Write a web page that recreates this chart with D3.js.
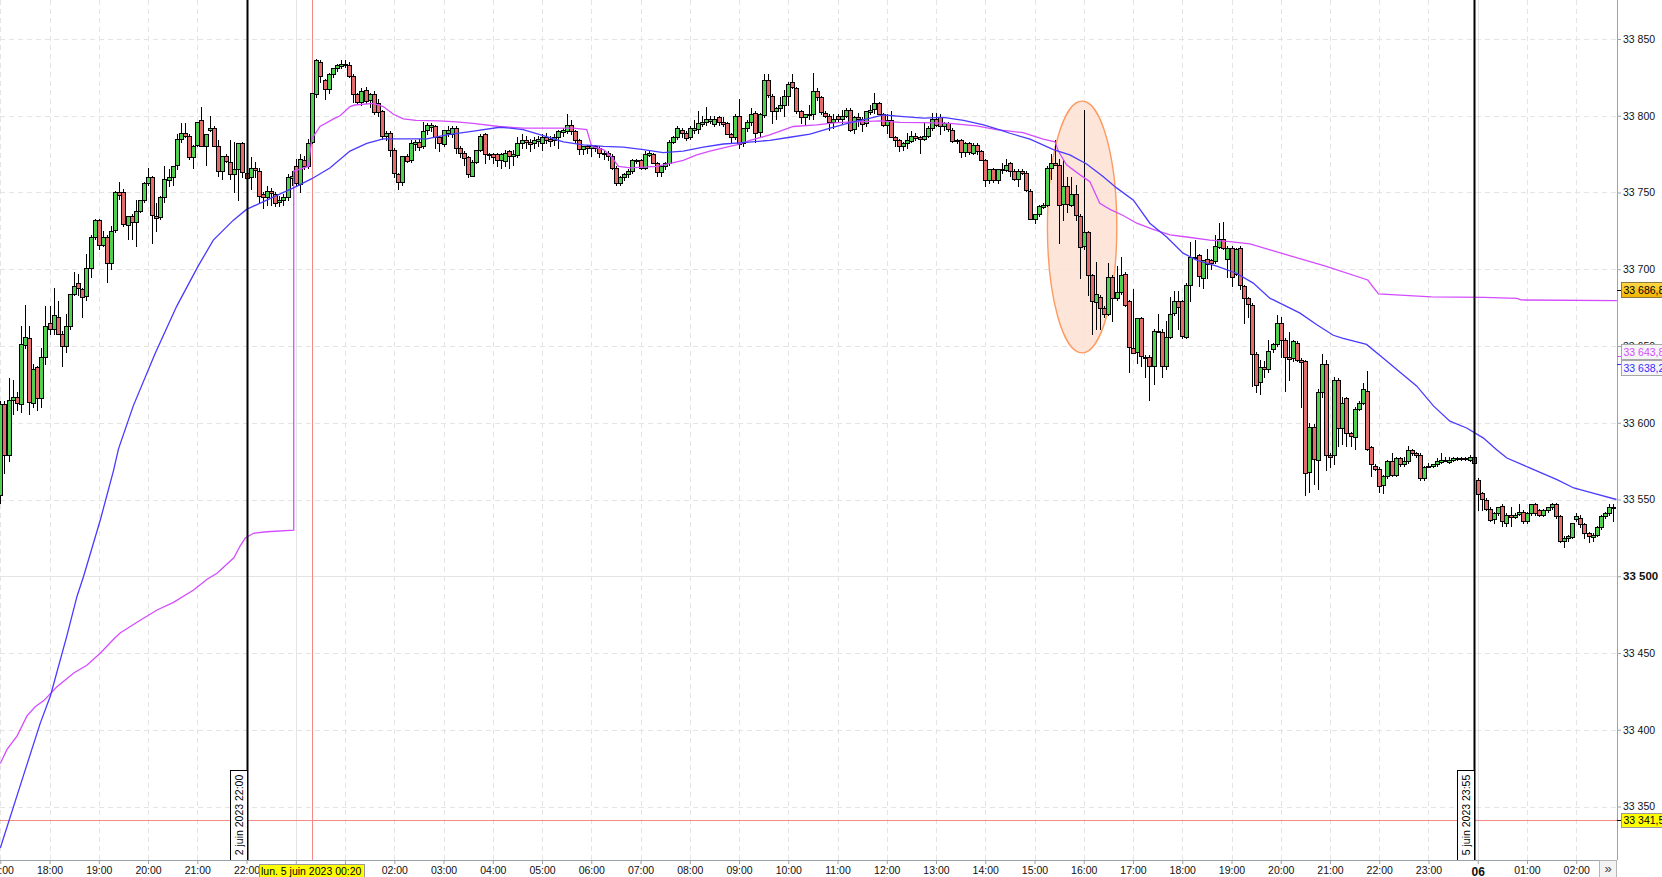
<!DOCTYPE html>
<html>
<head>
<meta charset="utf-8">
<script src="https://cdn.jsdelivr.net/npm/d3@7"></script>
<style>
  html, body { margin: 0; padding: 0; background: #fff; overflow: hidden; }
  svg { display: block; font-family: "Liberation Sans", Arial, sans-serif; }
</style>
</head>
<body>
<svg id="chart" width="1662" height="877"></svg>
<script>
// ── Sessions (5-minute bars, weekend skipped) ────────────────────────────────

const sessionStarts = ['2023-06-02T17:00', '2023-06-05T00:00'];
const sessionBars   = [72, 322];

// ── Candles, one line per hour ────────────────────────────────────────────────

const candleOpen = [
  33553,33612,33579,33615,33617,33612,33651,33655,33613,33636,33616,33643,
  33665,33661,33669,33658,33650,33663,33684,33691,33687,33683,33701,33721,
  33732,33716,33721,33704,33725,33750,33750,33729,33735,33731,33738,33745,
  33756,33760,33735,33734,33747,33758,33760,33768,33785,33789,33787,33773,
  33781,33797,33780,33791,33792,33780,33764,33774,33770,33762,33765,33782,
  33763,33760,33766,33764,33749,33747,33751,33749,33744,33745,33747,33760,
  33767,33756,33771,33767,33783,33814,33835,33823,33817,33827,33831,33833,
  33834,33833,33826,33814,33809,33817,33810,33814,33808,33803,33787,33789,
  33778,33762,33757,33774,33771,33782,33783,33780,33791,33793,33793,33786,
  33782,33789,33788,33792,33779,33776,33773,33761,33770,33778,33788,33775,
  33775,33775,33771,33771,33777,33774,33774,33782,33784,33783,33782,33784,
  33782,33786,33785,33784,33786,33790,33790,33794,33790,33784,33778,33780,
  33779,33780,33779,33776,33776,33774,33766,33756,33760,33762,33764,33771,
  33771,33766,33775,33775,33769,33763,33767,33769,33783,33786,33791,33789,
  33786,33791,33791,33795,33796,33797,33795,33799,33796,33795,33788,33786,
  33800,33782,33792,33796,33802,33789,33800,33823,33813,33803,33805,33807,
  33813,33822,33818,33803,33799,33801,33801,33816,33812,33802,33800,33796,
  33800,33798,33800,33804,33791,33799,33798,33795,33803,33804,33808,33801,
  33794,33797,33786,33784,33780,33782,33784,33787,33786,33785,33787,33792,
  33798,33799,33793,33795,33791,33784,33784,33776,33782,33776,33781,33777,
  33771,33758,33765,33758,33765,33765,33769,33764,33759,33764,33763,33751,
  33733,33736,33741,33742,33766,33769,33768,33742,33754,33742,33749,33735,
  33715,33724,33696,33679,33682,33675,33671,33695,33681,33685,33697,33679,
  33649,33646,33668,33643,33643,33637,33660,33659,33637,33656,33671,33679,
  33679,33656,33690,33708,33709,33694,33707,33706,33705,33715,33720,33707,
  33714,33697,33714,33689,33681,33677,33645,33626,33636,33635,33648,33651,
  33665,33654,33643,33642,33652,33641,33640,33568,33597,33576,33620,33638,
  33579,33579,33628,33597,33616,33593,33591,33609,33613,33621,33584,33572,
  33570,33559,33565,33575,33566,33577,33573,33575,33582,33580,33579,33564,
  33572,33572,33573,33575,33576,33575,33576,33577,33577,33577,33576,33578,
  33563,33554,33550,33544,33537,33541,33546,33535,33540,33539,33541,33542,
  33536,33541,33547,33543,33540,33543,33545,33547,33539,33523,33525,33526,
  33537,33538,33534,33528,33526,33527,33532,33539,33541,33545
];

const candleHigh = [
  33614,33614,33629,33628,33620,33663,33677,33663,33638,33637,33649,33676,
  33676,33688,33679,33660,33671,33684,33698,33697,33688,33710,33722,33733,
  33733,33725,33722,33728,33751,33757,33752,33735,33736,33745,33745,33757,
  33766,33761,33743,33748,33767,33765,33767,33788,33795,33795,33788,33781,
  33796,33806,33788,33800,33793,33784,33774,33775,33784,33783,33782,33783,
  33766,33773,33770,33766,33750,33754,33753,33750,33748,33749,33762,33764,
  33772,33775,33774,33785,33815,33837,33836,33824,33828,33831,33834,33836,
  33836,33835,33827,33815,33818,33819,33815,33816,33811,33804,33790,33790,
  33779,33763,33774,33775,33784,33784,33785,33796,33795,33795,33794,33787,
  33791,33793,33793,33793,33780,33777,33774,33771,33778,33788,33789,33776,
  33776,33776,33776,33778,33778,33778,33786,33788,33787,33785,33786,33787,
  33788,33789,33787,33788,33791,33792,33801,33797,33791,33785,33780,33781,
  33781,33781,33780,33777,33777,33775,33767,33761,33763,33765,33772,33772,
  33772,33777,33777,33776,33770,33767,33770,33784,33787,33793,33792,33790,
  33793,33797,33803,33800,33806,33800,33800,33800,33799,33796,33789,33801,
  33811,33792,33797,33805,33803,33802,33827,33827,33814,33806,33812,33817,
  33822,33827,33819,33804,33801,33807,33828,33818,33813,33803,33801,33801,
  33801,33804,33805,33805,33800,33802,33799,33803,33807,33815,33809,33802,
  33801,33803,33787,33785,33783,33789,33790,33789,33787,33795,33793,33802,
  33802,33801,33796,33796,33792,33785,33785,33783,33783,33782,33782,33778,
  33772,33765,33766,33765,33769,33772,33770,33765,33765,33765,33764,33752,
  33736,33742,33743,33767,33775,33784,33772,33771,33760,33760,33755,33736,
  33804,33725,33697,33705,33683,33676,33704,33696,33702,33708,33698,33680,
  33687,33668,33669,33644,33644,33661,33671,33661,33666,33682,33686,33686,
  33680,33691,33718,33719,33710,33706,33713,33707,33722,33730,33731,33715,
  33715,33714,33715,33690,33682,33678,33646,33641,33640,33654,33652,33670,
  33669,33655,33659,33654,33653,33642,33641,33600,33599,33622,33645,33641,
  33580,33630,33629,33617,33617,33594,33610,33614,33626,33634,33585,33573,
  33571,33566,33576,33580,33578,33578,33578,33585,33583,33581,33580,33572,
  33574,33573,33577,33580,33578,33578,33578,33578,33578,33578,33579,33579,
  33564,33555,33551,33545,33542,33545,33547,33541,33545,33541,33547,33543,
  33542,33547,33548,33544,33544,33545,33548,33548,33540,33526,33527,33535,
  33541,33540,33535,33529,33528,33533,33540,33542,33547,33547
];

const candleLow = [
  33548,33567,33575,33606,33608,33607,33649,33606,33610,33608,33610,33638,
  33658,33658,33658,33637,33646,33661,33683,33683,33669,33680,33695,33720,
  33713,33715,33692,33700,33724,33746,33728,33720,33720,33715,33737,33744,
  33755,33717,33725,33733,33744,33754,33755,33765,33783,33786,33772,33766,
  33780,33780,33768,33790,33780,33761,33759,33770,33759,33750,33745,33760,
  33758,33752,33760,33744,33740,33742,33742,33741,33741,33742,33745,33755,
  33755,33750,33765,33766,33782,33812,33822,33811,33815,33825,33829,33831,
  33832,33825,33809,33808,33807,33808,33806,33801,33800,33785,33784,33774,
  33760,33752,33755,33770,33770,33778,33778,33779,33788,33790,33779,33777,
  33780,33787,33786,33776,33773,33768,33760,33761,33769,33777,33769,33772,
  33769,33767,33766,33767,33766,33768,33773,33779,33779,33777,33779,33780,
  33778,33782,33780,33781,33779,33787,33789,33788,33783,33775,33775,33776,
  33774,33777,33773,33772,33771,33765,33755,33755,33758,33760,33763,33769,
  33765,33765,33774,33769,33761,33761,33765,33768,33782,33785,33786,33784,
  33785,33789,33789,33793,33794,33795,33793,33794,33793,33788,33782,33785,
  33779,33780,33790,33794,33783,33787,33799,33812,33795,33798,33803,33800,
  33807,33818,33802,33795,33794,33798,33798,33810,33801,33799,33791,33792,
  33796,33795,33799,33790,33789,33793,33790,33793,33801,33802,33801,33793,
  33789,33786,33780,33777,33778,33779,33783,33784,33776,33784,33786,33791,
  33793,33788,33791,33790,33783,33782,33773,33774,33775,33775,33775,33771,
  33754,33756,33757,33756,33763,33764,33761,33758,33754,33762,33751,33733,
  33730,33735,33740,33741,33759,33768,33717,33732,33737,33741,33732,33694,
  33713,33683,33658,33661,33661,33669,33670,33666,33680,33684,33676,33633,
  33646,33639,33637,33630,33615,33625,33659,33630,33635,33655,33670,33661,
  33655,33655,33679,33707,33689,33688,33694,33700,33704,33714,33713,33695,
  33689,33696,33687,33665,33669,33624,33620,33619,33630,33633,33646,33650,
  33643,33621,33628,33640,33640,33610,33553,33555,33560,33557,33617,33569,
  33571,33573,33585,33586,33585,33585,33583,33608,33612,33582,33565,33569,
  33555,33554,33564,33565,33565,33572,33572,33574,33579,33578,33563,33563,
  33571,33571,33572,33574,33575,33574,33575,33576,33576,33576,33575,33573,
  33543,33543,33543,33536,33535,33540,33533,33533,33533,33538,33540,33535,
  33535,33540,33540,33539,33539,33542,33544,33538,33522,33519,33523,33525,
  33536,33532,33525,33522,33523,33526,33531,33538,33540,33536
];

const candleClose = [
  33612,33579,33615,33617,33613,33651,33656,33613,33635,33616,33643,33663,
  33661,33670,33658,33650,33663,33684,33689,33688,33682,33701,33721,33732,
  33716,33721,33704,33725,33750,33748,33729,33735,33731,33738,33745,33756,
  33760,33735,33734,33747,33759,33760,33767,33785,33789,33787,33773,33780,
  33796,33780,33788,33792,33780,33764,33774,33771,33762,33765,33782,33763,
  33760,33766,33765,33748,33747,33751,33750,33743,33745,33747,33760,33761,
  33756,33772,33767,33782,33815,33836,33826,33817,33827,33831,33833,33834,
  33834,33826,33814,33809,33816,33810,33814,33802,33802,33787,33789,33778,
  33763,33757,33774,33771,33782,33783,33780,33790,33794,33794,33786,33782,
  33791,33791,33792,33779,33776,33773,33762,33770,33778,33787,33775,33775,
  33773,33771,33775,33776,33774,33775,33782,33784,33783,33782,33784,33785,
  33786,33784,33784,33786,33790,33791,33794,33790,33784,33778,33780,33779,
  33780,33779,33776,33776,33774,33766,33756,33760,33762,33764,33771,33771,
  33766,33775,33776,33769,33763,33767,33769,33783,33786,33792,33789,33786,
  33792,33792,33795,33796,33798,33798,33798,33796,33795,33788,33786,33800,
  33782,33792,33796,33801,33789,33801,33823,33813,33803,33805,33807,33813,
  33821,33819,33803,33799,33801,33801,33816,33812,33802,33800,33796,33798,
  33798,33800,33804,33791,33799,33798,33795,33803,33804,33808,33801,33794,
  33797,33786,33784,33780,33782,33784,33787,33786,33785,33787,33792,33798,
  33794,33793,33795,33791,33784,33784,33776,33782,33776,33781,33777,33771,
  33758,33765,33758,33765,33765,33768,33764,33759,33764,33763,33752,33733,
  33736,33741,33742,33766,33769,33768,33742,33754,33742,33749,33735,33715,
  33724,33696,33679,33684,33675,33671,33695,33681,33685,33696,33677,33649,
  33646,33668,33643,33643,33637,33660,33660,33637,33656,33671,33679,33675,
  33656,33690,33708,33708,33695,33706,33704,33704,33715,33720,33714,33714,
  33695,33713,33690,33681,33677,33645,33625,33636,33635,33647,33651,33665,
  33654,33643,33642,33653,33641,33640,33567,33597,33576,33620,33638,33579,
  33578,33628,33597,33613,33593,33591,33609,33613,33622,33583,33573,33570,
  33559,33565,33575,33566,33577,33573,33575,33582,33580,33579,33564,33571,
  33572,33573,33575,33576,33576,33576,33577,33577,33577,33577,33578,33574,
  33554,33550,33544,33537,33541,33545,33536,33540,33539,33540,33542,33536,
  33541,33547,33541,33540,33543,33545,33547,33539,33523,33525,33526,33535,
  33539,33534,33528,33526,33527,33532,33539,33541,33545,33545
];

// ── Indicator lines: [bar position, price] ────────────────────────────────────

// magenta (session VWAP-like), steps at the Monday open
const vwapLine = [
  [0,33378],[1.6,33387],[4.1,33396],[6.5,33409],[8.5,33415],[10.6,33419],[13.8,33428],
  [17.9,33437],[21.1,33442],[24.4,33450],[27.6,33459],[29.2,33463],[33.3,33470],
  [38.2,33478],[42.2,33483],[47.1,33491],[50.4,33498],[52.8,33502],[56.9,33512],
  [58.5,33520],[59.7,33525],[61.7,33528],[65,33529],[71.5,33530],
  [71.5,33764],[75.1,33767],[75.9,33785],[77.9,33793],[81.2,33798],[82.8,33800],
  [85.2,33806],[86.4,33807],[90.9,33808],[93.3,33806],[95.8,33801],[98.2,33798],
  [101.3,33797],[107,33796.6],[111.1,33796],[115.2,33795],[121.5,33793],[127.4,33792],
  [135.6,33792],[139.6,33792],[142.9,33791],[144.1,33780],[147,33778],[149,33773],
  [150.6,33767],[153.5,33766],[156.7,33766.5],[160,33767],[163.2,33769],[166.4,33771],
  [169.7,33774.5],[172.9,33777],[176.2,33779],[179.4,33781],[182.7,33784],[187.5,33787.5],
  [193.2,33793],[198.9,33794],[203.8,33795.5],[208.6,33796],[214.3,33796.6],[219.2,33795.7],
  [224.9,33795.5],[231.4,33795],[237.9,33793.4],[242.7,33791],[246,33790],[249.2,33789],
  [254.1,33784.7],[257,33783],[257.8,33777],[259.8,33768],[263.1,33761.5],[265.5,33757],
  [267.9,33743],[270.4,33739],[273.6,33735],[276.9,33730],[280.9,33726],[285,33722.4],
  [289.1,33721],[294.7,33719],[299.6,33718],[304.5,33716.5],[309.4,33712.6],[322.9,33702],
  [333.2,33693],[335.8,33684],[348.7,33682],[361.6,33681.7],[369.6,33681],[370.5,33680],
  [393.9,33679.5]
];

// blue moving average
const maLine = [
  [0,33323],[6.1,33374],[9.7,33404],[12.2,33422],[16.2,33461],[18.7,33487],[20.3,33500],
  [24.4,33537],[27.6,33569],[28.8,33583],[32.4,33611],[37.7,33645],[43,33676],[48.2,33702],
  [51.9,33719],[56.8,33732],[60,33739],[66.5,33747],[72.2,33754],[75.9,33759],[80.3,33766],
  [85.2,33777],[89.3,33782],[93.3,33785],[99,33785],[103.9,33785],[108.8,33787.5],
  [115.3,33790],[121.7,33792.5],[124.2,33792],[127.4,33791],[132.3,33787],[137.2,33783],
  [142.1,33781],[147,33780],[151.8,33779.5],[156.7,33778],[161.5,33776],[166.4,33777],
  [171.3,33779.5],[176.2,33781.6],[181,33782.5],[187.5,33784],[192.4,33786],[197.3,33788],
  [202.2,33792],[207.1,33795.5],[212,33798.4],[215.2,33800.5],[220.1,33799.4],[225,33798.4],
  [229.8,33799],[234.7,33797],[239.6,33794],[244.5,33790],[246,33788.6],[250.9,33784.7],
  [256.6,33778],[260.6,33774.5],[264.7,33768.6],[268.7,33760.4],[272,33753],[276.1,33745],
  [280.1,33730],[284.2,33721],[288.2,33710.5],[291.5,33706],[296.4,33702],[301.2,33697.4],
  [305.3,33691],[309.4,33681],[310.2,33680],[316.7,33671.4],[320.7,33664],[324.8,33657],
  [327.2,33655],[332.9,33651],[337,33642],[341,33633],[345.1,33624],[349.2,33611],
  [353.2,33601],[357.3,33596.6],[361.4,33590],[364.6,33582.4],[367.1,33577],[372.8,33570.5],
  [379.3,33563],[383.4,33557.5],[388.3,33554],[393.8,33550]
];

// ── Annotations ───────────────────────────────────────────────────────────────

const priceTicks   = d3.range(33350, 33851, 50);
const markerBars   = [60, 359];                       // vertical line objects
const markerTexts  = ['2 juin 2023 22:00', '5 juin 2023 23:55'];
const cursorBar    = 76;
const cursorPrice  = 33341.5;
const cursorText   = 'lun. 5 juin 2023 00:20';
const tagValues    = [33686.8, 33643.8, 33638.2];     // right-hand value tags
const ellipseNote  = [263.6, 33727.5, 8.45, 82];      // bar, price, half-width (bars), half-height (price)

// ── Layout ────────────────────────────────────────────────────────────────────

const PLOT_R = 1617;
const PLOT_B = 860;
const GREEN  = '#4fd04f';
const RED    = '#e46c6c';
const AXIS   = '#9aa3ab';
const GRID   = '#e4e4e4';

const svg = d3.select('#chart');

const x = d3.scaleLinear().domain([0, 393]).range([0.3, 0.3 + 4.104 * 393]);
const y = d3.scaleLinear().domain([33350, 33850]).range([806.5, 39]);

const fr = d3.formatLocale({ decimal: ',', thousands: ' ', grouping: [3], currency: ['', ''] });
const fmtPrice = fr.format(',.0f');
const fmtTag   = fr.format(',.1f');

// bar times → hourly ticks
const parse = d3.timeParse('%Y-%m-%dT%H:%M');
const barTimes = sessionStarts.flatMap((s, k) =>
  d3.range(sessionBars[k]).map(j => d3.timeMinute.offset(parse(s), 5 * j)));
const hourBars = d3.range(barTimes.length).filter(i => barTimes[i].getMinutes() === 0);
const isDay = i => barTimes[i].getHours() === 0;

// the crosshair time tag hides the hour labels beneath it
const cx = Math.round(x(cursorBar));
const underTag = i => Math.abs(x(i) - cx) < 60;

const bars = candleOpen.map((o, i) => ({
  i, o, h: candleHigh[i], l: candleLow[i], c: candleClose[i]
}));

svg.append('defs').append('clipPath').attr('id', 'plot-clip')
  .append('rect').attr('width', PLOT_R).attr('height', PLOT_B);

const plot = svg.append('g').attr('clip-path', 'url(#plot-clip)');

// ── Grid ──────────────────────────────────────────────────────────────────────

plot.append('g').selectAll('line').data(priceTicks).join('line')
  .attr('x1', 0).attr('x2', PLOT_R)
  .attr('y1', d => Math.round(y(d)) + 0.5).attr('y2', d => Math.round(y(d)) + 0.5)
  .attr('stroke', GRID)
  .attr('stroke-dasharray', d => d === 33500 ? null : '5,4');

plot.append('g').selectAll('line').data(hourBars).join('line')
  .attr('x1', d => Math.round(x(d)) + 0.5).attr('x2', d => Math.round(x(d)) + 0.5)
  .attr('y1', 0).attr('y2', PLOT_B)
  .attr('stroke', GRID)
  .attr('stroke-dasharray', d => isDay(d) ? null : '5,4');

// ── Ellipse note ──────────────────────────────────────────────────────────────

const [eBar, ePrice, eHalfBars, eHalfPrice] = ellipseNote;
plot.append('ellipse')
  .attr('cx', x(eBar)).attr('cy', y(ePrice))
  .attr('rx', x(eBar + eHalfBars) - x(eBar))
  .attr('ry', y(ePrice - eHalfPrice) - y(ePrice))
  .attr('fill', '#fde2d2').attr('fill-opacity', 0.85)
  .attr('stroke', '#ff9a60').attr('stroke-width', 1.4);

// ── Crosshair ─────────────────────────────────────────────────────────────────

plot.append('line')
  .attr('x1', cx + 0.5).attr('x2', cx + 0.5)
  .attr('y1', 0).attr('y2', PLOT_B)
  .attr('stroke', '#f38a8a');
plot.append('line')
  .attr('x1', 0).attr('x2', PLOT_R)
  .attr('y1', Math.round(y(cursorPrice)) + 0.5).attr('y2', Math.round(y(cursorPrice)) + 0.5)
  .attr('stroke', '#f38a8a');

// ── Candles ───────────────────────────────────────────────────────────────────

const candle = plot.append('g').attr('shape-rendering', 'crispEdges')
  .selectAll('g').data(bars).join('g');

candle.append('line')
  .attr('x1', d => Math.round(x(d.i)) + 0.5).attr('x2', d => Math.round(x(d.i)) + 0.5)
  .attr('y1', d => Math.round(y(Math.max(d.h, d.o, d.c))))
  .attr('y2', d => Math.round(y(Math.min(d.l, d.o, d.c))) + 1)
  .attr('stroke', '#000');

candle.append('rect')
  .attr('x', d => Math.round(x(d.i)) - 1.5)
  .attr('y', d => Math.round(y(Math.max(d.o, d.c))) + 0.5)
  .attr('width', 4)
  .attr('height', d => Math.max(1, Math.round(Math.abs(y(d.o) - y(d.c)))))
  .attr('fill', d => d.c >= d.o ? GREEN : RED)
  .attr('stroke', '#000');

// ── Indicator lines ───────────────────────────────────────────────────────────

const line = d3.line().x(d => x(d[0])).y(d => y(d[1]));

plot.append('path').datum(vwapLine)
  .attr('d', line).attr('fill', 'none')
  .attr('stroke', '#d44cff').attr('stroke-width', 1.3);

plot.append('path').datum(maLine)
  .attr('d', line).attr('fill', 'none')
  .attr('stroke', '#4a3aff').attr('stroke-width', 1.3);

// ── Vertical line objects with their date boxes ───────────────────────────────

const marker = svg.append('g').selectAll('g').data(markerBars).join('g');

marker.append('line')
  .attr('x1', d => Math.round(x(d)) + 0.5).attr('x2', d => Math.round(x(d)) + 0.5)
  .attr('y1', 0).attr('y2', PLOT_B)
  .attr('stroke', '#000').attr('stroke-width', 2);

marker.append('rect')
  .attr('x', d => Math.round(x(d)) - 16.5).attr('y', 770.5)
  .attr('width', 17).attr('height', PLOT_B - 770)
  .attr('fill', '#fff').attr('stroke', '#000');

marker.append('text')
  .attr('transform', d => `translate(${Math.round(x(d)) - 7.5},815) rotate(-90)`)
  .attr('text-anchor', 'middle').attr('dy', '0.36em')
  .attr('font-size', 10.5).attr('fill', '#000')
  .text((d, k) => markerTexts[k]);

// ── Axes ──────────────────────────────────────────────────────────────────────

const yAxis = svg.append('g')
  .attr('transform', `translate(${PLOT_R},0)`)
  .call(d3.axisRight(y).tickValues(priceTicks).tickFormat(fmtPrice).tickSize(4).tickPadding(2));
yAxis.select('.domain').remove();
yAxis.selectAll('.tick line').attr('stroke', AXIS);
yAxis.selectAll('.tick text')
  .attr('font-family', null).attr('fill', '#111')
  .attr('font-weight', d => d === 33500 ? 'bold' : null)
  .attr('font-size', d => d === 33500 ? 11.5 : 10.5);

const xAxis = svg.append('g')
  .attr('transform', `translate(0,${PLOT_B})`)
  .call(d3.axisBottom(x).tickValues(hourBars)
    .tickFormat(i => underTag(i) ? ''
      : isDay(i) ? d3.timeFormat('%d')(barTimes[i]) : d3.timeFormat('%H:%M')(barTimes[i]))
    .tickSize(4).tickPadding(3));
xAxis.select('.domain').remove();
xAxis.selectAll('.tick line').attr('stroke', AXIS);
xAxis.selectAll('.tick text')
  .attr('font-family', null).attr('fill', '#111')
  .attr('font-weight', d => isDay(d) ? 'bold' : null)
  .attr('font-size', d => isDay(d) ? 12 : 10.5);

svg.append('line')
  .attr('x1', 0).attr('x2', PLOT_R).attr('y1', PLOT_B + 0.5).attr('y2', PLOT_B + 0.5)
  .attr('stroke', AXIS);
svg.append('line')
  .attr('x1', PLOT_R + 0.5).attr('x2', PLOT_R + 0.5).attr('y1', 0).attr('y2', PLOT_B)
  .attr('stroke', AXIS);

// ── Value tags on the price axis ──────────────────────────────────────────────

const grad = svg.select('defs').append('linearGradient')
  .attr('id', 'gold').attr('x1', 0).attr('x2', 0).attr('y1', 0).attr('y2', 1);
grad.append('stop').attr('offset', 0).attr('stop-color', '#ffd84a');
grad.append('stop').attr('offset', 1).attr('stop-color', '#f2b300');

const tagStyle = [
  { fill: 'url(#gold)', stroke: '#8c7a3c', color: '#000',    tick: '#000',    shift: 0 },
  { fill: '#f6f6f6',    stroke: '#a7a7a7', color: '#d44cff', tick: '#d44cff', shift: -4 },
  { fill: '#f6f6f6',    stroke: '#a7a7a7', color: '#3a2cff', tick: '#3a2cff', shift: 4 }
];

const tag = svg.append('g').selectAll('g').data(tagValues).join('g');
tag.append('line')
  .attr('x1', PLOT_R).attr('x2', PLOT_R + 5)
  .attr('y1', d => Math.round(y(d)) + 0.5).attr('y2', d => Math.round(y(d)) + 0.5)
  .attr('stroke', (d, k) => tagStyle[k].tick);
tag.append('rect')
  .attr('x', PLOT_R + 4.5)
  .attr('y', (d, k) => Math.round(y(d)) + tagStyle[k].shift - 7.5)
  .attr('width', 52).attr('height', 15)
  .attr('fill', (d, k) => tagStyle[k].fill)
  .attr('stroke', (d, k) => tagStyle[k].stroke);
tag.append('text')
  .attr('x', PLOT_R + 6.5)
  .attr('y', (d, k) => Math.round(y(d)) + tagStyle[k].shift)
  .attr('dy', '0.36em').attr('font-size', 10.5)
  .attr('fill', (d, k) => tagStyle[k].color)
  .text(d => fmtTag(d));

// crosshair price tag
const cy = Math.round(y(cursorPrice));
svg.append('line')
  .attr('x1', PLOT_R).attr('x2', PLOT_R + 5).attr('y1', cy + 0.5).attr('y2', cy + 0.5)
  .attr('stroke', '#000');
svg.append('rect')
  .attr('x', PLOT_R + 4.5).attr('y', cy - 6.5).attr('width', 52).attr('height', 14)
  .attr('fill', '#ffff00').attr('stroke', '#999');
svg.append('text')
  .attr('x', PLOT_R + 6.5).attr('y', cy + 0.5).attr('dy', '0.36em')
  .attr('font-size', 10.5).attr('fill', '#000')
  .text(fmtTag(cursorPrice));

// crosshair time tag
svg.append('rect')
  .attr('x', cx - 52.5).attr('y', PLOT_B + 4.5).attr('width', 105).attr('height', 16)
  .attr('fill', '#ffff00').attr('stroke', '#999');
svg.append('text')
  .attr('x', cx - 51).attr('y', PLOT_B + 15)
  .attr('font-size', 10.5).attr('fill', '#000')
  .text(cursorText);

// scroll button in the corner
svg.append('rect')
  .attr('x', 1599.5).attr('y', PLOT_B + 0.5).attr('width', 17).attr('height', 17)
  .attr('fill', '#f3f3f3').attr('stroke', '#b5b5b5');
svg.append('text')
  .attr('x', 1608).attr('y', PLOT_B + 13)
  .attr('text-anchor', 'middle').attr('font-size', 13).attr('fill', '#444')
  .text('»');
</script>
</body>
</html>
